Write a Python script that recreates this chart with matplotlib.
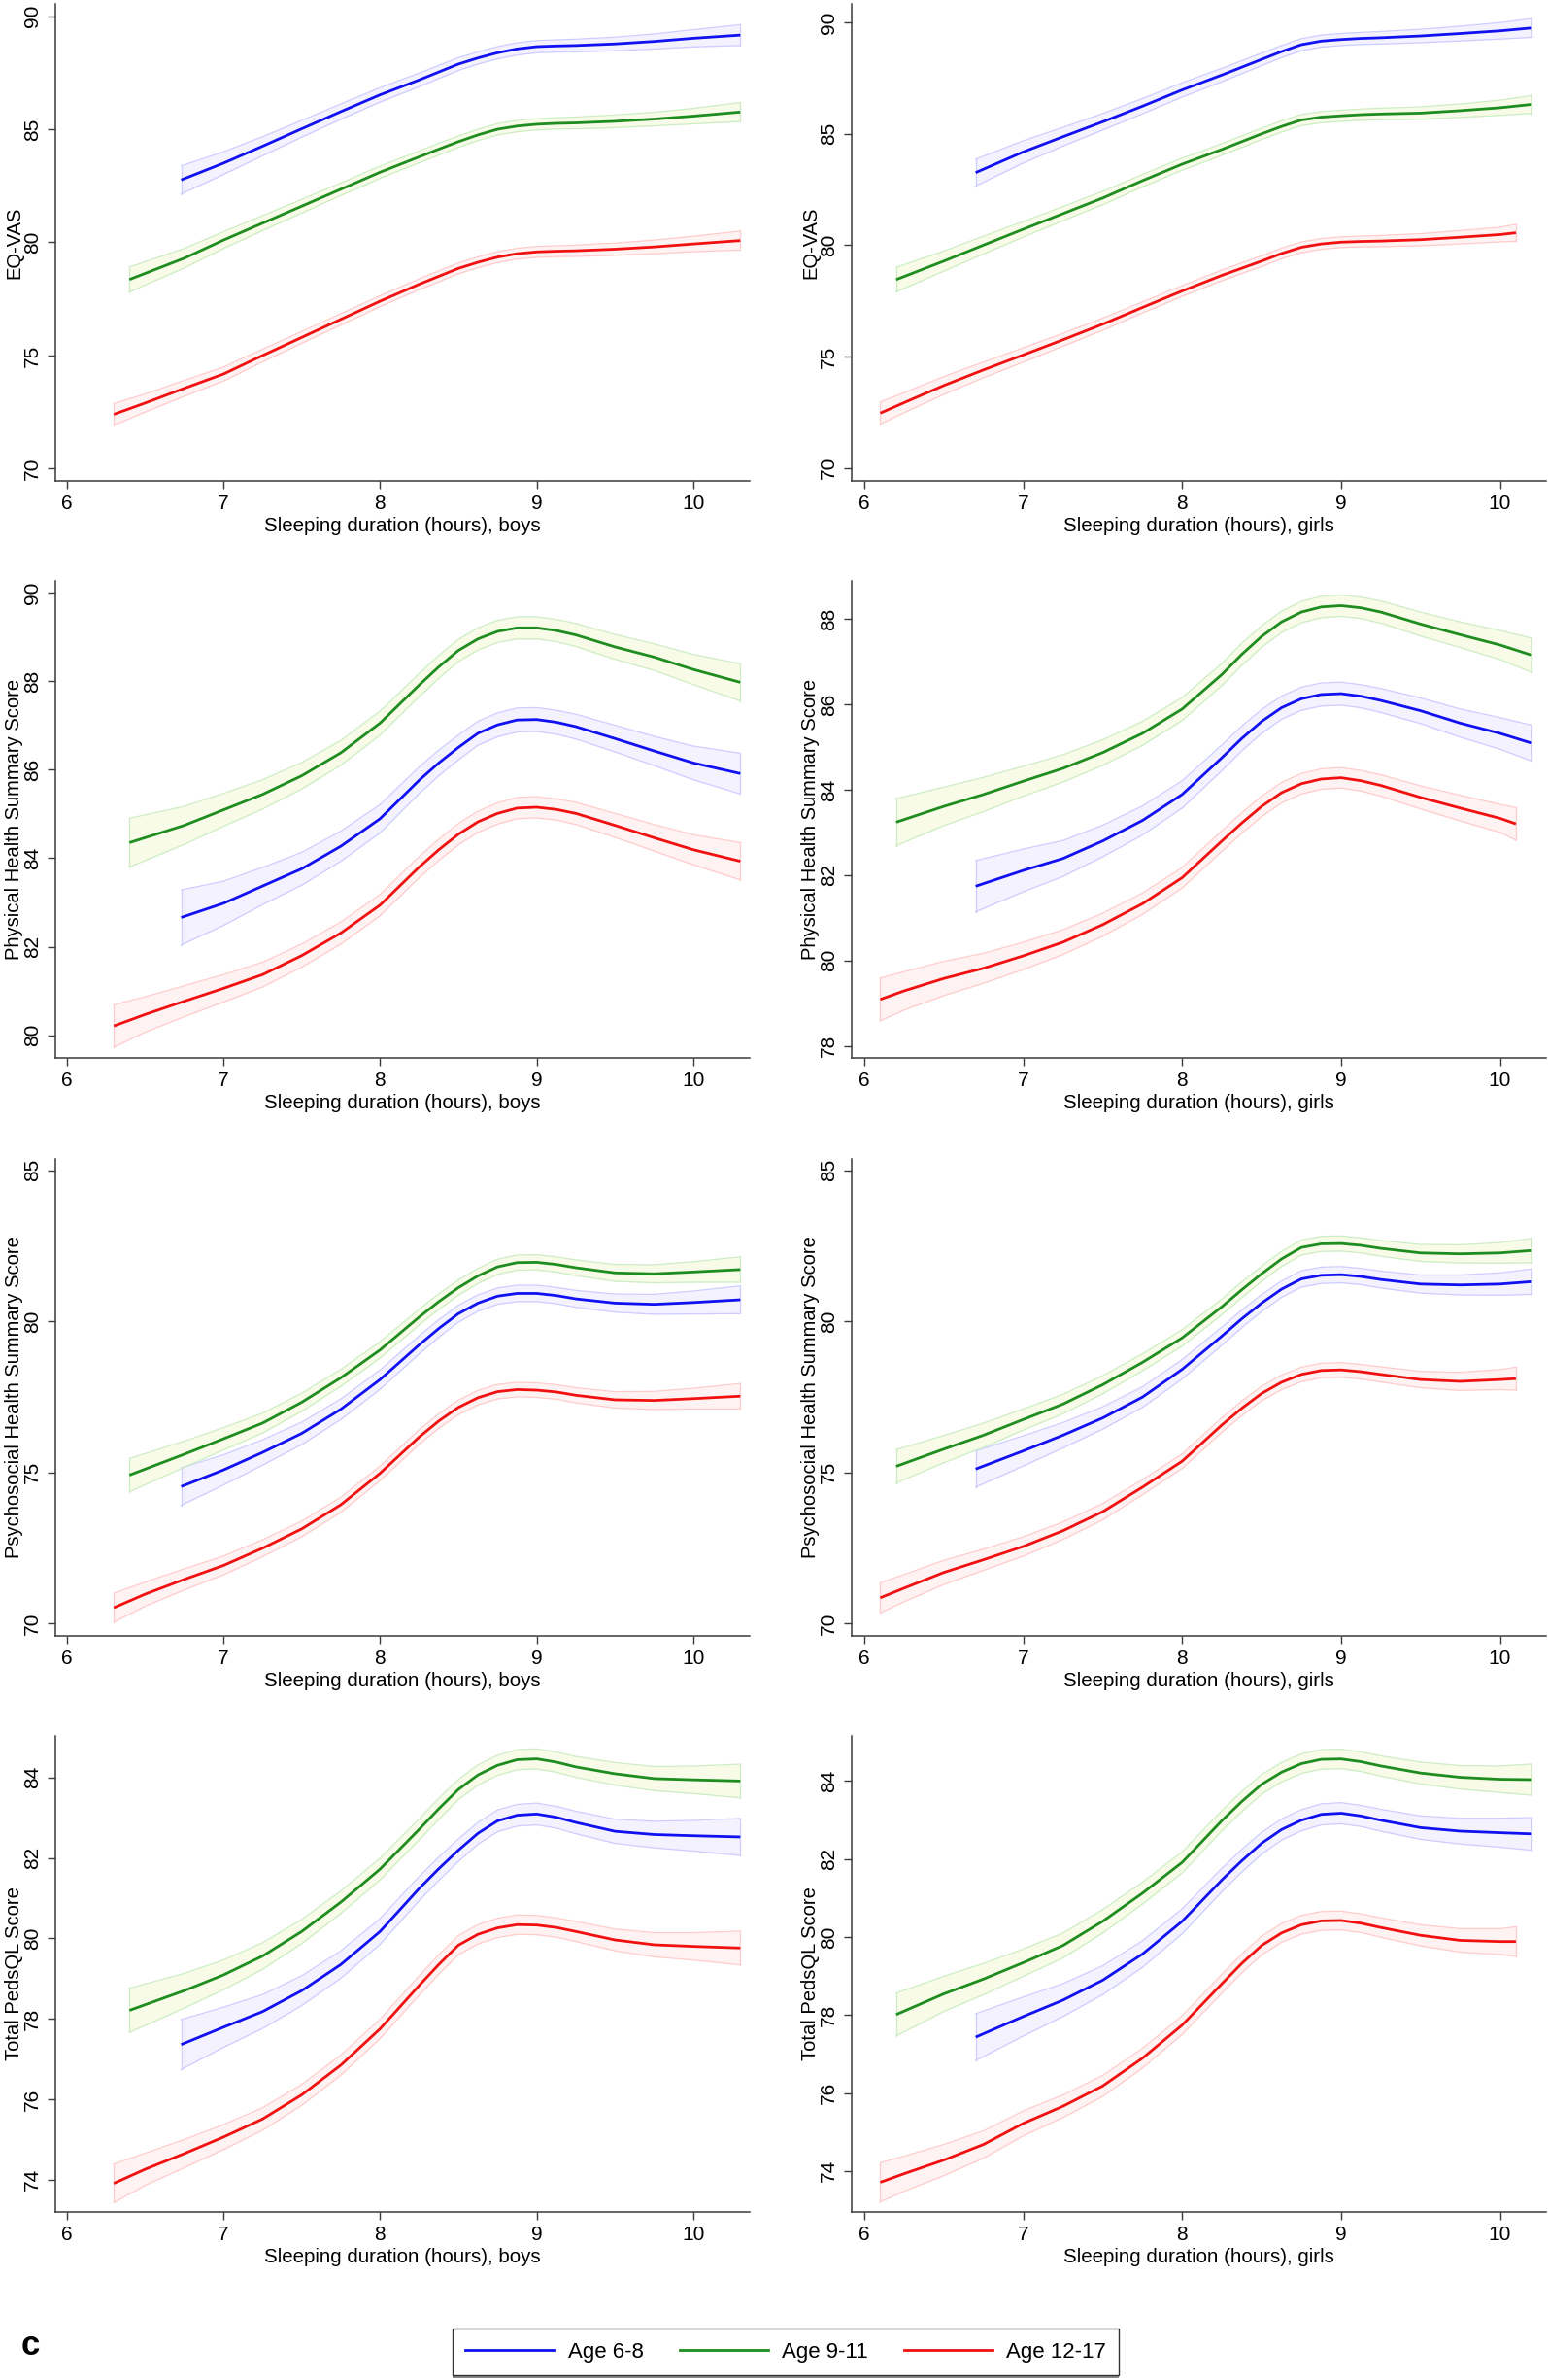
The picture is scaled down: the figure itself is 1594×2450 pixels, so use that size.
#!/usr/bin/env python3
"""
Sleep duration vs HRQoL scores by age group, boys and girls (panel c)
Fitted curves with confidence bands, 4 outcomes x 2 sexes
"""

import matplotlib
matplotlib.use('Agg')
import matplotlib.pyplot as plt
from matplotlib.lines import Line2D

plt.rcParams['font.family'] = ['Liberation Sans', 'DejaVu Sans']

# sleeping duration (hours) where each curve was read
x_boys_68 = [6.73, 7.0, 7.25, 7.5, 7.75, 8.0, 8.25, 8.375, 8.5, 8.625, 8.75, 8.875,
             9.0, 9.125, 9.25, 9.5, 9.75, 10.0, 10.3]
x_boys_911 = [6.4, 6.75, 7.0, 7.25, 7.5, 7.75, 8.0, 8.25, 8.375, 8.5, 8.625, 8.75,
              8.875, 9.0, 9.125, 9.25, 9.5, 9.75, 10.0, 10.3]
x_boys_1217 = [6.3, 6.5, 6.75, 7.0, 7.25, 7.5, 7.75, 8.0, 8.25, 8.375, 8.5, 8.625,
               8.75, 8.875, 9.0, 9.125, 9.25, 9.5, 9.75, 10.0, 10.3]
x_girls_68 = [6.7, 7.0, 7.25, 7.5, 7.75, 8.0, 8.25, 8.375, 8.5, 8.625, 8.75, 8.875,
              9.0, 9.125, 9.25, 9.5, 9.75, 10.0, 10.2]
x_girls_911 = [6.2, 6.5, 6.75, 7.0, 7.25, 7.5, 7.75, 8.0, 8.25, 8.375, 8.5, 8.625,
               8.75, 8.875, 9.0, 9.125, 9.25, 9.5, 9.75, 10.0, 10.2]
x_girls_1217 = [6.1, 6.25, 6.5, 6.75, 7.0, 7.25, 7.5, 7.75, 8.0, 8.25, 8.375, 8.5,
                8.625, 8.75, 8.875, 9.0, 9.125, 9.25, 9.5, 9.75, 10.0, 10.1]

# half width of the confidence band (score points) - about the same in every outcome
ci_boys_68 = [0.62, 0.5, 0.42, 0.37, 0.34, 0.32, 0.3, 0.29, 0.28, 0.27, 0.27, 0.27,
              0.27, 0.27, 0.28, 0.3, 0.33, 0.38, 0.46]
ci_boys_911 = [0.55, 0.43, 0.37, 0.33, 0.3, 0.28, 0.27, 0.26, 0.26, 0.25, 0.25, 0.25,
               0.25, 0.25, 0.25, 0.26, 0.28, 0.3, 0.34, 0.42]
ci_boys_1217 = [0.48, 0.4, 0.35, 0.31, 0.28, 0.26, 0.25, 0.24, 0.24, 0.24, 0.24, 0.24,
                0.24, 0.24, 0.24, 0.24, 0.25, 0.27, 0.3, 0.34, 0.42]
ci_girls_68 = [0.6, 0.5, 0.42, 0.37, 0.34, 0.32, 0.3, 0.29, 0.28, 0.27, 0.27, 0.27,
               0.27, 0.27, 0.28, 0.3, 0.33, 0.37, 0.42]
ci_girls_911 = [0.55, 0.45, 0.4, 0.35, 0.32, 0.3, 0.28, 0.27, 0.26, 0.26, 0.25, 0.25,
                0.25, 0.25, 0.25, 0.25, 0.26, 0.28, 0.3, 0.34, 0.4]
ci_girls_1217 = [0.5, 0.45, 0.4, 0.35, 0.32, 0.29, 0.27, 0.25, 0.24, 0.24, 0.24, 0.24,
                 0.24, 0.24, 0.24, 0.24, 0.24, 0.25, 0.27, 0.3, 0.33, 0.38]

# EQ-VAS
eq_boys_68 = [82.76, 83.5, 84.25, 85.02, 85.78, 86.52, 87.18, 87.53, 87.88, 88.15,
              88.38, 88.55, 88.65, 88.68, 88.7, 88.77, 88.88, 89.02, 89.16]
eq_boys_911 = [78.36, 79.3, 80.1, 80.85, 81.6, 82.35, 83.1, 83.78, 84.12, 84.45,
               84.75, 85.0, 85.14, 85.22, 85.26, 85.28, 85.35, 85.45, 85.58, 85.76]
eq_boys_1217 = [72.4, 72.9, 73.55, 74.18, 75.0, 75.8, 76.6, 77.4, 78.15, 78.5, 78.85,
                79.12, 79.35, 79.5, 79.58, 79.61, 79.63, 79.7, 79.8, 79.93, 80.08]
eq_girls_68 = [83.25, 84.18, 84.86, 85.53, 86.23, 86.96, 87.63, 87.98, 88.33, 88.68,
               88.99, 89.15, 89.22, 89.27, 89.3, 89.38, 89.49, 89.61, 89.74]
eq_girls_911 = [78.45, 79.28, 80.0, 80.71, 81.41, 82.11, 82.89, 83.63, 84.29, 84.64,
                84.99, 85.32, 85.61, 85.74, 85.8, 85.85, 85.88, 85.92, 86.03, 86.16, 86.31]
eq_girls_1217 = [72.46, 72.93, 73.7, 74.4, 75.07, 75.75, 76.45, 77.2, 77.94, 78.64,
                 78.96, 79.28, 79.62, 79.9, 80.05, 80.13, 80.16, 80.18, 80.24, 80.35,
                 80.47, 80.55]

# Physical Health Summary Score
phys_boys_68 = [82.66, 82.98, 83.37, 83.76, 84.27, 84.89, 85.76, 86.15, 86.5, 86.82,
                87.01, 87.12, 87.13, 87.07, 86.97, 86.7, 86.42, 86.15, 85.91]
phys_boys_911 = [84.35, 84.74, 85.09, 85.44, 85.86, 86.38, 87.05, 87.91, 88.32, 88.69,
                 88.95, 89.12, 89.2, 89.2, 89.14, 89.04, 88.77, 88.54, 88.26, 87.97]
phys_boys_1217 = [80.21, 80.47, 80.77, 81.06, 81.37, 81.8, 82.31, 82.94, 83.8, 84.19,
                  84.54, 84.82, 85.01, 85.13, 85.15, 85.1, 85.01, 84.74, 84.46, 84.19,
                  83.93]
phys_girls_68 = [81.74, 82.11, 82.39, 82.8, 83.28, 83.89, 84.75, 85.2, 85.6, 85.92,
                 86.13, 86.23, 86.25, 86.19, 86.09, 85.85, 85.56, 85.32, 85.09]
phys_girls_911 = [83.24, 83.61, 83.89, 84.2, 84.5, 84.87, 85.32, 85.89, 86.7, 87.17,
                  87.59, 87.93, 88.16, 88.28, 88.31, 88.26, 88.16, 87.88, 87.63, 87.39,
                  87.15]
phys_girls_1217 = [79.09, 79.29, 79.58, 79.82, 80.11, 80.43, 80.84, 81.33, 81.94, 82.8,
                   83.22, 83.61, 83.93, 84.14, 84.25, 84.28, 84.21, 84.1, 83.82, 83.57,
                   83.33, 83.2]

# Psychosocial Health Summary Score
psy_boys_68 = [74.53, 75.08, 75.66, 76.29, 77.09, 78.07, 79.22, 79.76, 80.25, 80.6,
               80.83, 80.92, 80.92, 80.85, 80.74, 80.6, 80.56, 80.62, 80.71]
psy_boys_911 = [74.91, 75.6, 76.11, 76.63, 77.32, 78.13, 79.05, 80.14, 80.65, 81.11,
                81.5, 81.8, 81.94, 81.95, 81.88, 81.77, 81.6, 81.57, 81.63, 81.71]
psy_boys_1217 = [70.52, 70.97, 71.46, 71.92, 72.49, 73.13, 73.93, 74.97, 76.17, 76.7,
                 77.15, 77.47, 77.67, 77.74, 77.72, 77.66, 77.55, 77.4, 77.38, 77.44,
                 77.52]
psy_girls_68 = [75.11, 75.71, 76.23, 76.8, 77.49, 78.41, 79.51, 80.08, 80.6, 81.06,
                81.4, 81.52, 81.54, 81.48, 81.38, 81.23, 81.2, 81.23, 81.31]
psy_girls_911 = [75.2, 75.77, 76.23, 76.75, 77.26, 77.9, 78.64, 79.45, 80.48, 81.04,
                 81.57, 82.06, 82.44, 82.56, 82.57, 82.51, 82.41, 82.26, 82.23, 82.26,
                 82.34]
psy_girls_1217 = [70.85, 71.17, 71.69, 72.11, 72.55, 73.07, 73.7, 74.51, 75.37, 76.57,
                  77.12, 77.61, 77.98, 78.24, 78.37, 78.39, 78.33, 78.24, 78.07, 78.01,
                  78.07, 78.1]

# Total PedsQL Score
tot_boys_68 = [77.36, 77.79, 78.18, 78.7, 79.35, 80.17, 81.24, 81.73, 82.19, 82.61,
               82.92, 83.06, 83.09, 83.01, 82.88, 82.66, 82.58, 82.55, 82.52]
tot_boys_911 = [78.21, 78.7, 79.09, 79.56, 80.17, 80.9, 81.72, 82.71, 83.22, 83.7,
                84.06, 84.3, 84.44, 84.46, 84.38, 84.26, 84.09, 83.97, 83.94, 83.91]
tot_boys_1217 = [73.91, 74.26, 74.65, 75.06, 75.51, 76.11, 76.85, 77.75, 78.83, 79.35,
                 79.83, 80.1, 80.26, 80.34, 80.33, 80.27, 80.17, 79.96, 79.84, 79.8,
                 79.76]
tot_girls_68 = [77.43, 77.96, 78.38, 78.89, 79.56, 80.4, 81.46, 81.95, 82.4, 82.75,
                82.99, 83.14, 83.17, 83.1, 82.99, 82.8, 82.71, 82.67, 82.64]
tot_girls_911 = [78.01, 78.54, 78.92, 79.34, 79.78, 80.4, 81.12, 81.91, 82.98, 83.47,
                 83.91, 84.22, 84.44, 84.55, 84.56, 84.49, 84.38, 84.2, 84.09, 84.04,
                 84.03]
tot_girls_1217 = [73.71, 73.93, 74.28, 74.68, 75.22, 75.66, 76.18, 76.89, 77.74, 78.8,
                  79.32, 79.78, 80.1, 80.31, 80.41, 80.42, 80.35, 80.24, 80.04, 79.91,
                  79.88, 79.88]

age_groups = ['Age 6-8', 'Age 9-11', 'Age 12-17']
line_colors = ['#1010f0', '#1e8c1e', '#f01010']
band_fill = ['#f4f2ff', '#f7fbe8', '#fff2f2']
band_edge = ['#cdcdff', '#cdeec4', '#ffcccc']

outcome_labels = ['EQ-VAS', 'Physical Health Summary Score',
                  'Psychosocial Health Summary Score', 'Total PedsQL Score']
sex_labels = ['boys', 'girls']

x_data = {
    'boys': [x_boys_68, x_boys_911, x_boys_1217],
    'girls': [x_girls_68, x_girls_911, x_girls_1217],
}
ci_data = {
    'boys': [ci_boys_68, ci_boys_911, ci_boys_1217],
    'girls': [ci_girls_68, ci_girls_911, ci_girls_1217],
}
y_data = [
    {'boys': [eq_boys_68, eq_boys_911, eq_boys_1217],
     'girls': [eq_girls_68, eq_girls_911, eq_girls_1217]},
    {'boys': [phys_boys_68, phys_boys_911, phys_boys_1217],
     'girls': [phys_girls_68, phys_girls_911, phys_girls_1217]},
    {'boys': [psy_boys_68, psy_boys_911, psy_boys_1217],
     'girls': [psy_girls_68, psy_girls_911, psy_girls_1217]},
    {'boys': [tot_boys_68, tot_boys_911, tot_boys_1217],
     'girls': [tot_girls_68, tot_girls_911, tot_girls_1217]},
]

# y ticks and limits per outcome / sex
y_ticks = [
    {'boys': [70, 75, 80, 85, 90], 'girls': [70, 75, 80, 85, 90]},
    {'boys': [80, 82, 84, 86, 88, 90], 'girls': [78, 80, 82, 84, 86, 88]},
    {'boys': [70, 75, 80, 85], 'girls': [70, 75, 80, 85]},
    {'boys': [74, 76, 78, 80, 82, 84], 'girls': [74, 76, 78, 80, 82, 84]},
]
y_limits = [
    {'boys': (69.46, 90.54), 'girls': (69.42, 90.82)},
    {'boys': (79.49, 90.26), 'girls': (77.72, 88.89)},
    {'boys': (69.59, 85.37), 'girls': (69.59, 85.37)},
    {'boys': (73.2, 85.03), 'girls': (72.95, 85.15)},
]
x_limits = {'boys': (5.927, 10.36), 'girls': (5.92, 10.29)}

W, H = 1594, 2450
col_px = {'boys': (57, 772), 'girls': (877, 1592)}
row_px = [(4, 495), (598, 1089), (1193, 1684), (1787, 2277)]
spine_color = '#3a3a3a'


def draw_panel(ax, row, sex):
    """Draw one outcome for one sex"""
    for g in range(3):
        xs = x_data[sex][g]
        ys = y_data[row][sex][g]
        ci = ci_data[sex][g]
        lo = [y - c for y, c in zip(ys, ci)]
        hi = [y + c for y, c in zip(ys, ci)]
        ax.fill_between(xs, lo, hi, color=band_fill[g], lw=0, zorder=1)
        ax.plot(xs, lo, color=band_edge[g], lw=0.9, zorder=2)
        ax.plot(xs, hi, color=band_edge[g], lw=0.9, zorder=2)
        ax.plot([xs[0], xs[0]], [lo[0], hi[0]], color=band_edge[g], lw=0.9, zorder=2)
        ax.plot([xs[-1], xs[-1]], [lo[-1], hi[-1]], color=band_edge[g], lw=0.9, zorder=2)
    for g in range(3):
        ax.plot(x_data[sex][g], y_data[row][sex][g], color=line_colors[g],
                lw=2.0, zorder=3, solid_capstyle='butt', solid_joinstyle='round')

    ax.set_xlim(*x_limits[sex])
    ax.set_ylim(*y_limits[row][sex])
    ax.set_xticks([6, 7, 8, 9, 10])
    ax.set_yticks(y_ticks[row][sex])

    for side in ['top', 'right']:
        ax.spines[side].set_visible(False)
    for side in ['left', 'bottom']:
        ax.spines[side].set_color(spine_color)
        ax.spines[side].set_linewidth(1.1)
    ax.tick_params(axis='both', direction='out', length=6, width=1.0,
                   color=spine_color, labelsize=15, pad=4)
    for lab in ax.get_yticklabels():
        lab.set_rotation(90)
        lab.set_va('center')

    ax.set_xlabel(f'Sleeping duration (hours), {sex}', fontsize=14.8, labelpad=3)
    ax.set_ylabel(outcome_labels[row], fontsize=14.5)
    ax.yaxis.set_label_coords(-33 / 715, 0.5)


def main():
    fig = plt.figure(figsize=(W / 100, H / 100), dpi=100)

    for row in range(4):
        for sex in sex_labels:
            x0, x1 = col_px[sex]
            top, bottom = row_px[row]
            rect = [x0 / W, 1 - bottom / H, (x1 - x0) / W, (bottom - top) / H]
            ax = fig.add_axes(rect)
            draw_panel(ax, row, sex)

    # panel letter
    fig.text(31 / W, 1 - 2414 / H, 'c', fontsize=25, fontweight='bold',
             ha='center', va='center')

    # shared legend, grey drop shadow under the box as in the original
    handles = [Line2D([0], [0], color=c, lw=2.0) for c in line_colors]
    leg = fig.legend(handles, age_groups, loc='center', ncol=3,
                     bbox_to_anchor=(809 / W, 1 - 2421 / H), fontsize=16,
                     frameon=True, fancybox=False,
                     shadow={'ox': 0, 'oy': -2.5, 'facecolor': '#8a8a8a',
                             'edgecolor': 'none', 'alpha': 1.0},
                     handlelength=4.1, columnspacing=1.67, handletextpad=0.63,
                     borderpad=0.6, borderaxespad=0.0)
    leg.get_frame().set_edgecolor('#333333')
    leg.get_frame().set_linewidth(1.0)
    leg.get_frame().set_alpha(1.0)

    fig.savefig('out.png', dpi=100)
    plt.close(fig)


if __name__ == '__main__':
    main()
